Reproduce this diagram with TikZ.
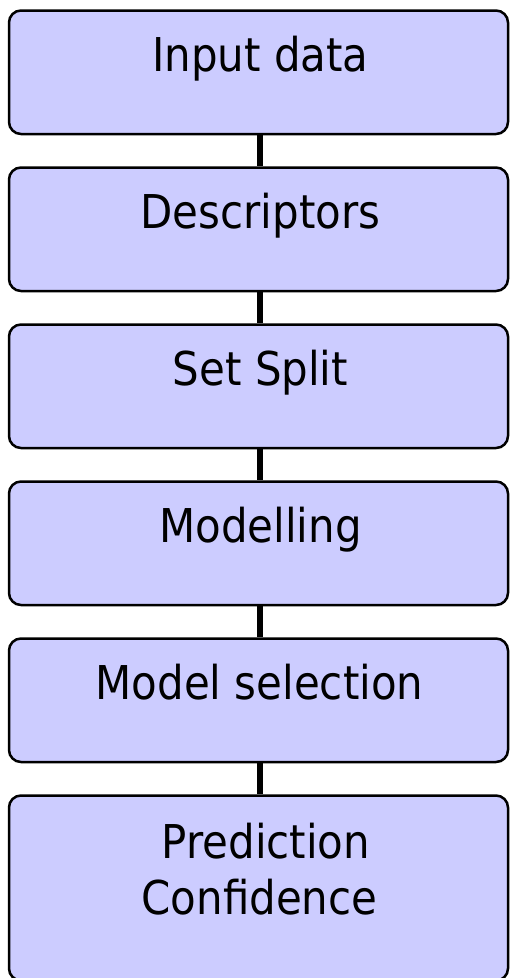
\documentclass[tikz,border=0pt]{standalone}
\usepackage{fontspec}
\setmainfont{DejaVu Sans Condensed}
\definecolor{boxfill}{HTML}{CCCCFF}
\tikzset{
  stepbox/.style={draw=black, fill=boxfill, line width=2.5pt, rounded corners=12pt,
    minimum width=499pt, inner sep=0pt, anchor=north},
  steptext/.style={anchor=base, align=center, inner sep=0pt,
    font=\fontsize{46.6}{56}\selectfont},
  link/.style={draw=black, line width=6pt}
}
\begin{document}
\begin{tikzpicture}[x=1pt, y=1pt]
  \useasboundingbox (0,0) rectangle (510,-978);
  \clip (0,0) rectangle (510,-978);

  % process steps, top to bottom
  \node[stepbox, minimum height=123.5pt] (b1) at (258.5,-9.25) {};
  \node[stepbox, minimum height=123.5pt] (b2) at (258.5,-166.25) {};
  \node[stepbox, minimum height=123.5pt] (b3) at (258.5,-323.25) {};
  \node[stepbox, minimum height=123.5pt] (b4) at (258.5,-480.25) {};
  \node[stepbox, minimum height=123.5pt] (b5) at (258.5,-637.25) {};
  \node[stepbox, minimum height=185pt]   (b6) at (258.5,-794.25) {};

  % connectors between consecutive steps
  \draw[link] ([xshift=1.5pt]b1.south) -- ([xshift=1.5pt]b2.north);
  \draw[link] ([xshift=1.5pt]b2.south) -- ([xshift=1.5pt]b3.north);
  \draw[link] ([xshift=1.5pt]b3.south) -- ([xshift=1.5pt]b4.north);
  \draw[link] ([xshift=1.5pt]b4.south) -- ([xshift=1.5pt]b5.north);
  \draw[link] ([xshift=1.5pt]b5.south) -- ([xshift=1.5pt]b6.north);

  % step labels
  \node[steptext] (t1) at ([xshift=2pt,yshift=-62.5pt]b1.north) {Input data};
  \node[steptext] (t2) at ([xshift=2pt,yshift=-62.5pt]b2.north) {Descriptors};
  \node[steptext] (t3) at ([xshift=2pt,yshift=-62.5pt]b3.north) {Set Split};
  \node[steptext] (t4) at ([xshift=2pt,yshift=-62.5pt]b4.north) {Modelling};
  \node[steptext] (t5) at ([xshift=1pt,yshift=-62.5pt]b5.north) {Model selection};
  \node[steptext, anchor=north] (t6) at ([xshift=1pt,yshift=-29pt]b6.north)
    {\hspace*{13pt}Prediction\\Confidence};
\end{tikzpicture}
\end{document}
